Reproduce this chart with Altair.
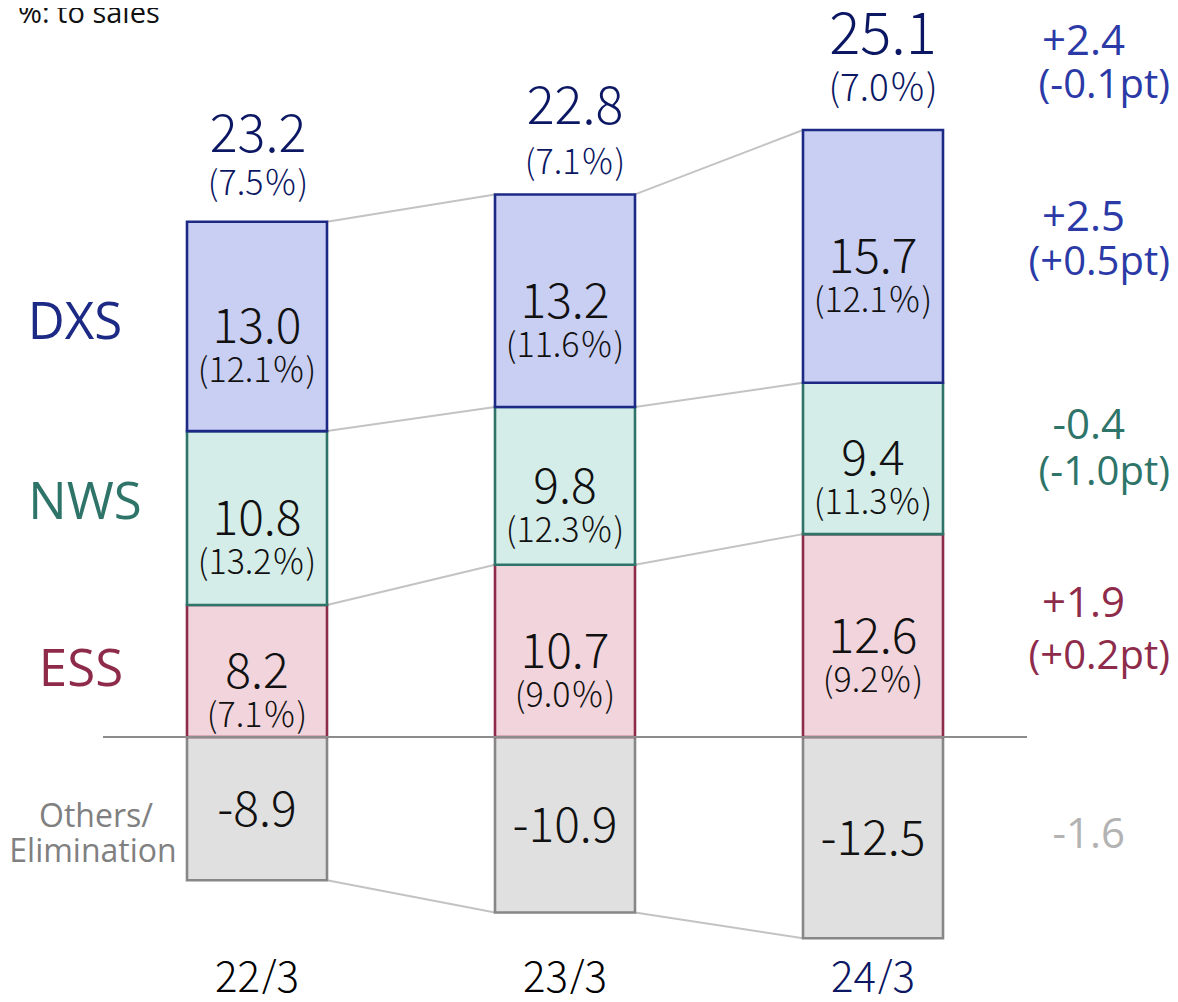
import altair as alt
import pandas as pd

# ---------------- data ----------------
years = ["22/3", "23/3", "24/3"]
ess = [8.2, 10.7, 12.6]
nws = [10.8, 9.8, 9.4]
dxs = [13.0, 13.2, 15.7]
others = [-8.9, -10.9, -12.5]
ess_pct = [7.1, 9.0, 9.2]
nws_pct = [13.2, 12.3, 11.3]
dxs_pct = [12.1, 11.6, 12.1]
totals = [23.2, 22.8, 25.1]
total_pct = [7.5, 7.1, 7.0]
change_rows = ["Total", "DXS", "NWS", "ESS", "Others"]
change_vals = ["+2.4", "+2.5", "-0.4", "+1.9", "-1.6"]
change_pts = ["(-0.1pt)", "(+0.5pt)", "(-1.0pt)", "(+0.2pt)", ""]
seg_names = ["Others", "ESS", "NWS", "DXS"]
left_names = ["DXS", "NWS", "ESS"]

# ---------------- styles ----------------
seg_fill = ["#e0e0e0", "#f2d4dc", "#d5ede9", "#c9cef3"]
seg_stroke = ["#878787", "#8e2b4b", "#2e7469", "#1d2a85"]
seg_label_color = {"DXS": "#1d2a85", "NWS": "#2e7469", "ESS": "#8e2b4b"}
change_color = {"Total": "#2b3aa6", "DXS": "#2b3aa6", "NWS": "#2e7469",
                "ESS": "#8e2b4b", "Others": "#b3b3b3"}
NAVY = "#0b1763"
JP = "Noto Sans CJK JP"
OS = "Open Sans"
PCT = "\uff05"

W, H = 1162, 986
PXU = 16.1          # pixels per unit on y
ZERO_PX = 729       # y pixel of zero inside plot
STEP = 308          # pixels between bars
X0_PX = 249         # x pixel of first bar centre
HALF = 70 / STEP    # half bar width in x units

X_SCALE = alt.Scale(domain=[-X0_PX / STEP, (W - X0_PX) / STEP], nice=False, zero=False)
Y_SCALE = alt.Scale(domain=[-(H - ZERO_PX) / PXU, ZERO_PX / PXU], nice=False, zero=False)
Y_MIN = -(H - ZERO_PX) / PXU


def X(f):
    return alt.X(f, type="quantitative", scale=X_SCALE, axis=None)


def Y(f):
    return alt.Y(f, type="quantitative", scale=Y_SCALE, axis=None)


def px_to_x(px):
    return (px - 8 - X0_PX) / STEP


# ---------------- tables ----------------
rows = []
for i, yr in enumerate(years):
    rows.append(dict(i=i, year=yr, seg="Others", y0=0.0, y1=others[i],
                     val=f"{others[i]:.1f}", pct=""))
    base = 0.0
    for seg, vals, pcts in (("ESS", ess, ess_pct), ("NWS", nws, nws_pct), ("DXS", dxs, dxs_pct)):
        rows.append(dict(i=i, year=yr, seg=seg, y0=base, y1=base + vals[i],
                         val=f"{vals[i]:.1f}", pct=f"({pcts[i]:.1f}{PCT})"))
        base += vals[i]
bars = pd.DataFrame(rows)
bars["c"] = (bars["y0"] + bars["y1"]) / 2
bars["xl"] = bars["i"] - HALF
bars["xr"] = bars["i"] + HALF

stack_top = [e + n + d for e, n, d in zip(ess, nws, dxs)]
levels = [stack_top, [e + n for e, n in zip(ess, nws)], ess, others]
conn = []
for lv in levels:
    for i in range(len(years) - 1):
        conn.append(dict(xa=i + HALF, xb=i + 1 - HALF, ya=lv[i], yb=lv[i + 1]))
conn = pd.DataFrame(conn)

zero = pd.DataFrame({"xa": [-0.5], "xb": [len(years) - 0.5], "y": [0.0]})

tot = pd.DataFrame({"i": range(len(years)), "top": stack_top,
                    "val": [f"{t:.1f}" for t in totals],
                    "pct": [f"({p:.1f}{PCT})" for p in total_pct]})

yrs = pd.DataFrame({"i": range(len(years)), "year": years, "y": Y_MIN})

# ---------------- layers ----------------
layers = []

layers.append(alt.Chart(conn).mark_rule(color="#c3c3c3", strokeWidth=2).encode(
    x=X("xa"), x2="xb", y=Y("ya"), y2="yb"))

layers.append(alt.Chart(bars).mark_rect(strokeWidth=2.6).encode(
    x=X("xl"), x2="xr", y=Y("y0"), y2="y1",
    fill=alt.Fill("seg:N", scale=alt.Scale(domain=seg_names, range=seg_fill), legend=None),
    stroke=alt.Stroke("seg:N", scale=alt.Scale(domain=seg_names, range=seg_stroke), legend=None)))

layers.append(alt.Chart(zero).mark_rule(color="#8c8c8c", strokeWidth=2).encode(
    x=X("xa"), x2="xb", y=Y("y")))


def text(df, xf, yf, tf, size, color, font=JP, dx=0, dy=0, align="center",
         baseline="middle", weight=None):
    kw = dict(font=font, fontSize=size, color=color, dx=dx, dy=dy, align=align, baseline=baseline)
    if weight is not None:
        kw["fontWeight"] = weight
    return alt.Chart(df).mark_text(**kw).encode(
        x=X(xf), y=Y(yf), text=alt.Text(tf, type="nominal"))


LIGHT = 300

# values inside the bars
layers.append(text(bars, "i", "c", "val", 48, "#111111", dy=3, weight=LIGHT))
layers.append(text(bars[bars.seg != "Others"], "i", "c", "pct", 34, "#111111", dy=46, weight=LIGHT))

# totals above the bars
tot_style = {0: dict(vs=52, ps=34, vdy=-86, pdy=-37, dx=1),
             1: dict(vs=52, ps=34, vdy=-86, pdy=-30, dx=10),
             2: dict(vs=58, ps=37, vdy=-93, pdy=-40, dx=10)}
for i, st in tot_style.items():
    d = tot[tot.i == i]
    layers.append(text(d, "i", "top", "val", st["vs"], NAVY, dx=st["dx"], dy=st["vdy"], weight=LIGHT))
    layers.append(text(d, "i", "top", "pct", st["ps"], NAVY, dx=st["dx"], dy=st["pdy"], weight=LIGHT))

# segment names on the left (anchored on first bar)
left_x = {"DXS": 75, "NWS": 85, "ESS": 81}
left_dy = {"DXS": -2, "NWS": -14, "ESS": 0}
first = bars[bars.i == 0].set_index("seg")
for name in left_names:
    d = pd.DataFrame({"x": [px_to_x(left_x[name])], "y": [first.loc[name, "c"]], "t": [name]})
    layers.append(text(d, "x", "y", "t", 51, seg_label_color[name], font=OS, dy=left_dy[name]))
oth = pd.DataFrame({"x": [px_to_x(93)], "y": [first.loc["Others", "c"]],
                    "t1": ["Others/"], "t2": ["Elimination"]})
layers.append(text(oth, "x", "y", "t1", 32, "#808080", font=OS, dx=3, dy=18, baseline="alphabetic"))
layers.append(text(oth, "x", "y", "t2", 32, "#808080", font=OS, dy=53, baseline="alphabetic"))

# changes on the right (anchored on last bar)
last = bars[bars.i == len(years) - 1].set_index("seg")
anchor = {"Total": stack_top[-1], "DXS": last.loc["DXS", "c"], "NWS": last.loc["NWS", "c"],
          "ESS": last.loc["ESS", "c"], "Others": last.loc["Others", "c"]}
RIGHT_X = px_to_x(1125)
chg_dy = {"Total": (-88, -44), "DXS": (-38, 7), "NWS": (-32, 15), "ESS": (-32, 21), "Others": (-3, 0)}
for name, v, p in zip(change_rows, change_vals, change_pts):
    d = pd.DataFrame({"x": [RIGHT_X], "y": [anchor[name]], "v": [v], "p": [p]})
    layers.append(text(d, "x", "y", "v", 42, change_color[name], font=OS, align="right",
                       dy=chg_dy[name][0]))
    if p:
        layers.append(text(d, "x", "y", "p", 40, change_color[name], font=OS, align="right",
                           dx=45, dy=chg_dy[name][1]))

# fiscal year labels along the bottom
layers.append(alt.Chart(yrs).mark_text(font=JP, fontSize=42, fontWeight=LIGHT, dy=-15,
                                       baseline="middle").encode(
    x=X("i"), y=Y("y"), text=alt.Text("year", type="nominal"),
    color=alt.condition(alt.datum.i == len(years) - 1, alt.value(NAVY), alt.value("#000000"))))

# note in the top-left corner
note = pd.DataFrame({"t": ["%: to sales"]})
layers.append(alt.Chart(note).mark_text(font=OS, fontSize=29, align="left", baseline="alphabetic",
                                        color="#111111").encode(
    x=alt.value(10), y=alt.value(15), text=alt.Text("t", type="nominal")))

chart = alt.layer(*layers).properties(
    width=W, height=H, padding=0, autosize=alt.AutoSizeParams(type="none")
).configure_view(stroke=None)

chart.save("out.html", embed_options={"renderer": "svg", "actions": False})
